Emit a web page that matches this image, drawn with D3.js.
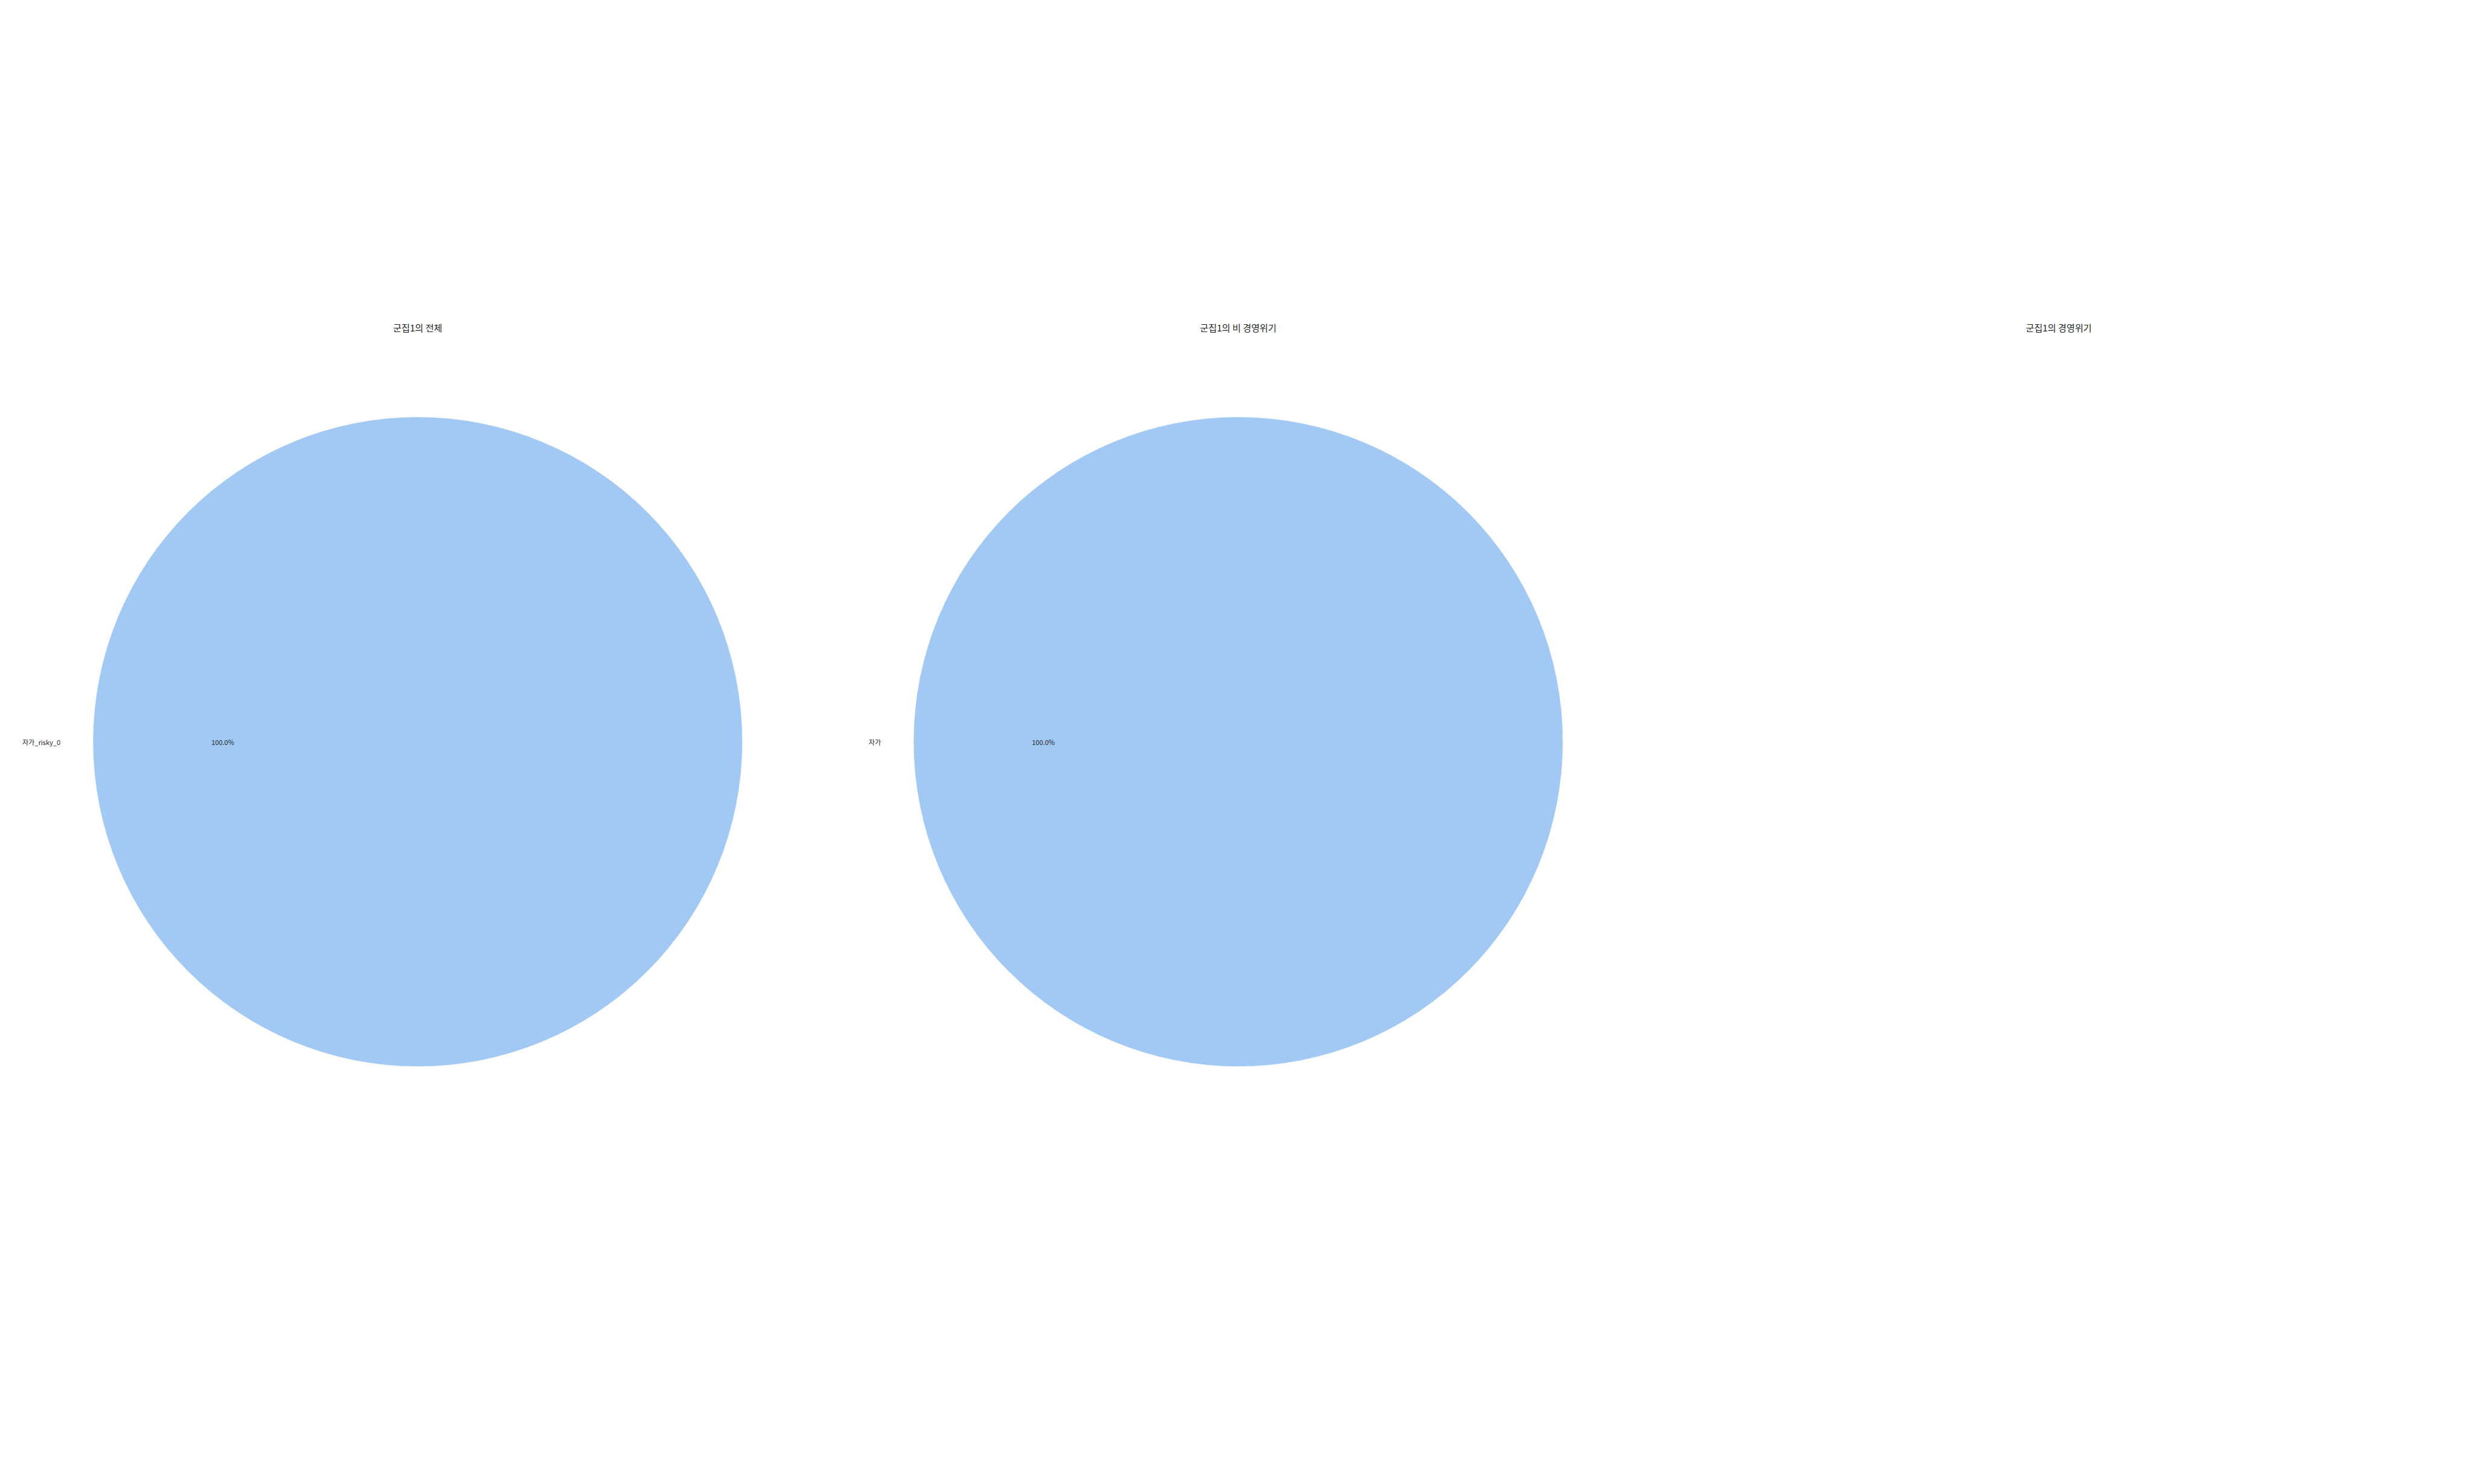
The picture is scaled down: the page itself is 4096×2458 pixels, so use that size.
<!DOCTYPE html>
<html>
<head>
<meta charset="utf-8">
<script src="https://cdn.jsdelivr.net/npm/d3@7"></script>
<style>
html,body{margin:0;padding:0;background:#fff;overflow:hidden;}
svg{display:block;}
</style>
</head>
<body>
<svg id="chart" width="4096" height="2458" viewBox="0 0 5000 3000"></svg>
<script>
// Data
const titles = ["군집1의 전체", "군집1의 비 경영위기", "군집1의 경영위기"];
const cats1 = ["자가_risky_0"];
const vals1 = [100];
const cats2 = ["자가"];
const vals2 = [100];
const cats3 = [];
const vals3 = [];
const palette = ["#a1c9f4", "#ffb482", "#8de5a1", "#ff9f9b", "#d0bbff"];

const panels = [
  {title: titles[0], cats: cats1, vals: vals1},
  {title: titles[1], cats: cats2, vals: vals2},
  {title: titles[2], cats: cats3, vals: vals3}
];

const svg = d3.select("#chart");
const font = "'Noto Sans CJK KR', 'Noto Sans', sans-serif";
const textColor = "#262626";

const xPos = d3.scalePoint().domain(d3.range(panels.length)).range([844.5, 4162.5]);
const cy = 1499.5;
const R = 656.7;
const color = d3.scaleOrdinal().range(palette);

// matplotlib-style: start at 3 o'clock, counter-clockwise
const pie = d3.pie().sort(null).startAngle(Math.PI / 2).endAngle(Math.PI / 2 - 2 * Math.PI);
const arc = d3.arc().innerRadius(0).outerRadius(R);

panels.forEach((p, i) => {
  const cx = xPos(i);
  const g = svg.append("g").attr("transform", `translate(${cx},${cy})`);
  svg.append("text")
    .attr("x", cx).attr("y", 662)
    .attr("text-anchor", "middle")
    .attr("dominant-baseline", "central")
    .attr("font-family", font)
    .attr("font-size", 18.5)
    .attr("fill", textColor)
    .text(p.title);

  const data = p.vals.map((v, k) => ({cat: p.cats[k], v}));
  const total = d3.sum(p.vals);
  const arcs = pie.value(d => d.v)(data);

  g.selectAll("path.slice").data(arcs).join("path")
    .attr("class", "slice")
    .attr("d", arc)
    .attr("fill", (d, k) => color(k))
    .attr("stroke", "#ffffff")
    .attr("stroke-width", 1);

  arcs.forEach(a => {
    const mid = (a.startAngle + a.endAngle) / 2;
    const lx = 1.1 * R * Math.sin(mid);
    const ly = -1.1 * R * Math.cos(mid);
    g.append("text")
      .attr("x", lx).attr("y", ly)
      .attr("text-anchor", Math.abs(lx) < 1e-6 ? "middle" : (lx < 0 ? "end" : "start"))
      .attr("dominant-baseline", "central")
      .attr("font-family", font)
      .attr("font-size", 13.5)
      .attr("fill", textColor)
      .text(a.data.cat);
    const px = 0.6 * R * Math.sin(mid);
    const py = -0.6 * R * Math.cos(mid);
    g.append("text")
      .attr("x", px).attr("y", py)
      .attr("text-anchor", "middle")
      .attr("dominant-baseline", "central")
      .attr("font-family", font)
      .attr("font-size", 13.5)
      .attr("fill", textColor)
      .text((a.data.v / total * 100).toFixed(1) + "%");
  });
});
</script>
</body>
</html>
